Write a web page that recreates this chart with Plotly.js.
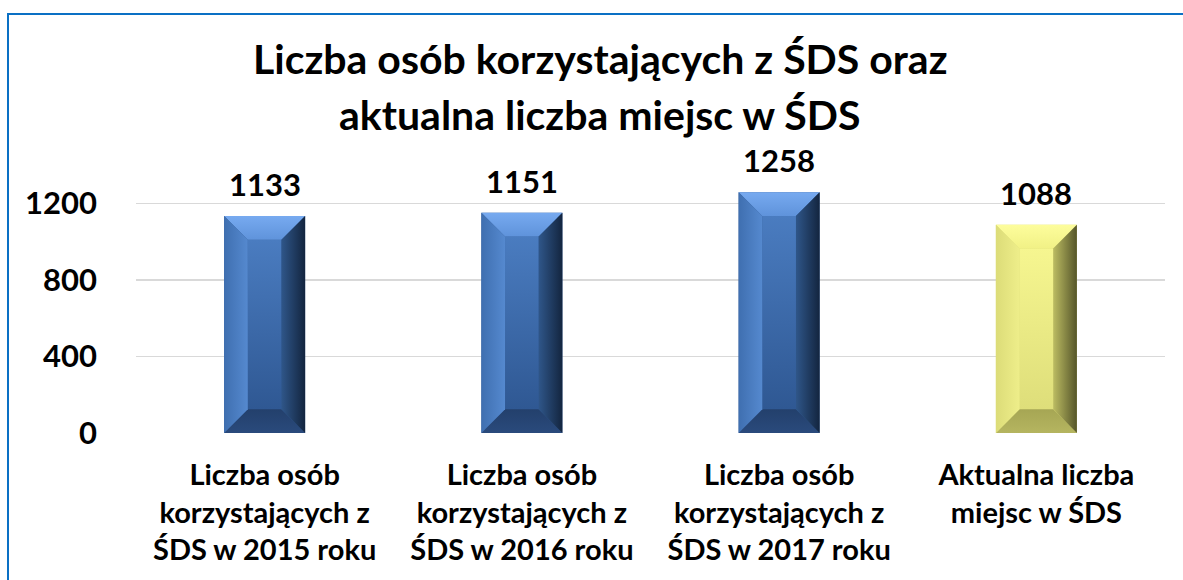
<!DOCTYPE html>
<html>
<head>
<meta charset="utf-8">
<script src="https://cdn.plot.ly/plotly-3.0.1.min.js"></script>
<style>
  html, body { margin: 0; padding: 0; background: #ffffff; overflow: hidden; }
  #chart { position: absolute; left: 0; top: 0; width: 1183px; height: 580px; }
  #frame { position: absolute; left: 7px; top: 13px; width: 1200px; height: 600px;
           border: 2px solid #0a70c4; pointer-events: none; }
</style>
</head>
<body>
<div id="chart"></div>
<div id="frame"></div>
<script>
// ---- data ----
const categories = [
  "Liczba osób<br>korzystających z<br>ŚDS w 2015 roku",
  "Liczba osób<br>korzystających z<br>ŚDS w 2016 roku",
  "Liczba osób<br>korzystających z<br>ŚDS w 2017 roku",
  "Aktualna liczba<br>miejsc w ŚDS"
];
const values = [1133, 1151, 1258, 1088];
const barKinds = ["blue", "blue", "blue", "yellow"];
const yTickVals = [0, 400, 800, 1200];
const titleLines = ["Liczba osób korzystających z ŚDS oraz", "aktualna liczba miejsc w ŚDS"];

// ---- styles ----
const palette = {
  blue: {
    front: ["#4a7cc0", "#2f5893"],
    top: ["#5f93db", "#77aaf0"],
    bottom: ["#2a4a7c", "#23406c"],
    left: ["#3f6fb0", "#5589cf"],
    right: ["#13253f", "#2f5689"]
  },
  yellow: {
    front: ["#f6f690", "#dede7a"],
    top: ["#f1f186", "#fdfd9c"],
    bottom: ["#b5b560", "#a6a654"],
    left: ["#dcdc78", "#eeee8a"],
    right: ["#55552a", "#bcbc62"]
  }
};
const W = 0.315;     // bar width in category units
const DX = 0.092;    // bevel inset (x units)
const DY = 124;      // bevel inset (y units)
const FONT = "Lato, 'Open Sans', sans-serif";

const xs = categories.map((c, i) => i);
const traces = [];

// base bars (front face colour)
traces.push({
  type: "bar", x: xs, y: values, width: W,
  marker: { color: barKinds.map(k => palette[k].front[1]), line: { width: 0 } },
  hoverinfo: "y", showlegend: false
});

function facet(px, py, cols, orient) {
  return {
    type: "scatter", mode: "lines", x: px, y: py, fill: "toself",
    fillcolor: cols[1],
    fillgradient: { type: orient, colorscale: [[0, cols[0]], [1, cols[1]]] },
    line: { width: 0, color: "rgba(0,0,0,0)" },
    hoverinfo: "skip", showlegend: false
  };
}

values.forEach((v, i) => {
  const c = xs[i], p = palette[barKinds[i]];
  const x0 = c - W / 2, x1 = c + W / 2;
  traces.push(facet([x0 + DX, x1 - DX, x1 - DX, x0 + DX], [DY, DY, v - DY, v - DY],
                    [p.front[1], p.front[0]], "vertical"));
  traces.push(facet([x0, x1, x1 - DX, x0 + DX], [v, v, v - DY, v - DY], p.top, "vertical"));
  traces.push(facet([x0, x1, x1 - DX, x0 + DX], [0, 0, DY, DY], p.bottom, "vertical"));
  traces.push(facet([x0, x0, x0 + DX, x0 + DX], [0, v, v - DY, DY], p.left, "horizontal"));
  traces.push(facet([x1 - DX, x1 - DX, x1, x1], [DY, v - DY, v, 0],
                    [p.right[1], p.right[0]], "horizontal"));
});

const annotations = values.map((v, i) => ({
  x: xs[i], y: v, xref: "x", yref: "y", text: String(v), showarrow: false,
  yanchor: "bottom", yshift: 11,
  font: { family: FONT, size: 31, color: "#000000", weight: 700 }
}));
titleLines.forEach((t, k) => {
  annotations.push({
    x: 0.4509, xref: "paper", y: k === 0 ? 1.298 : 1.09, yref: "paper",
    text: t, showarrow: false, xanchor: "center", yanchor: "bottom",
    font: { family: FONT, size: 41, color: "#000000", weight: 700 }
  });
});

const layout = {
  width: 1183, height: 580,
  margin: { l: 136, r: 18, t: 165, b: 147, pad: 0 },
  paper_bgcolor: "#ffffff", plot_bgcolor: "#ffffff",
  showlegend: false, barmode: "overlay",
  xaxis: {
    range: [-0.5, 3.5], tickvals: xs, ticktext: categories,
    showgrid: false, zeroline: false, showline: false, ticks: "",
    ticklabelstandoff: 22, fixedrange: true,
    tickfont: { family: FONT, size: 29, color: "#000000", weight: 700 }
  },
  yaxis: {
    range: [0, 1400], tickvals: yTickVals, ticktext: yTickVals.map(String),
    showgrid: true, gridcolor: "#d9d9d9", gridwidth: 1.5,
    zeroline: false, showline: false, ticks: "", ticklabelstandoff: 38,
    fixedrange: true,
    tickfont: { family: FONT, size: 31, color: "#000000", weight: 700 }
  },
  annotations: annotations
};

Plotly.newPlot("chart", traces, layout, { displayModeBar: false, staticPlot: true });
</script>
</body>
</html>
